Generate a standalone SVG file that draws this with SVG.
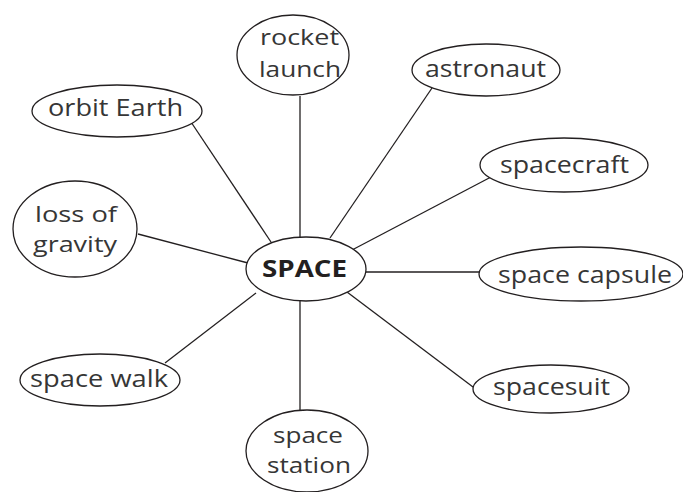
<svg xmlns="http://www.w3.org/2000/svg" width="683" height="492" viewBox="0 0 683 492">
<style>
ellipse{fill:#fff;stroke:#231f20;stroke-width:1.3}
line{stroke:#231f20;stroke-width:1.3}
text{font-family:"Open Sans","Noto Sans",sans-serif;font-size:24px;fill:#363636;text-anchor:middle}
.t{font-size:22px}
.b{font-weight:bold;font-size:24px;fill:#231f20}
</style>
<rect width="683" height="492" fill="#fff"/>
<g id="connectors">
<line x1="300" y1="96" x2="300" y2="237"/>
<line x1="191" y1="122" x2="271" y2="242"/>
<line x1="138" y1="234" x2="248" y2="263"/>
<line x1="165" y1="363" x2="256" y2="293"/>
<line x1="300" y1="300" x2="300" y2="410"/>
<line x1="432" y1="88" x2="330" y2="238"/>
<line x1="491" y1="177" x2="352" y2="250"/>
<line x1="366" y1="272" x2="479" y2="272"/>
<line x1="473" y1="387" x2="347" y2="292"/>
</g>
<g id="space"><ellipse cx="306" cy="269" rx="60" ry="32"/><text class="b" x="304.5" y="277" textLength="85" lengthAdjust="spacingAndGlyphs">SPACE</text></g>
<g id="rocket-launch"><ellipse cx="293" cy="55" rx="56" ry="40"/><text class="t" x="299.5" y="45" textLength="79" lengthAdjust="spacingAndGlyphs">rocket</text><text class="t" x="300" y="77" textLength="82" lengthAdjust="spacingAndGlyphs">launch</text></g>
<g id="orbit-earth"><ellipse cx="117" cy="111" rx="85" ry="26"/><text x="115.5" y="116" textLength="135" lengthAdjust="spacingAndGlyphs">orbit Earth</text></g>
<g id="loss-of-gravity"><ellipse cx="75" cy="229" rx="62" ry="48"/><text class="t" x="76" y="222" textLength="82" lengthAdjust="spacingAndGlyphs">loss of</text><text class="t" x="75" y="252" textLength="84" lengthAdjust="spacingAndGlyphs">gravity</text></g>
<g id="space-walk"><ellipse cx="100" cy="380" rx="80" ry="26"/><text x="99" y="387" textLength="138" lengthAdjust="spacingAndGlyphs">space walk</text></g>
<g id="space-station"><ellipse cx="307" cy="451" rx="61" ry="41"/><text class="t" x="308" y="443" textLength="70" lengthAdjust="spacingAndGlyphs">space</text><text class="t" x="309" y="473" textLength="84" lengthAdjust="spacingAndGlyphs">station</text></g>
<g id="astronaut"><ellipse cx="486" cy="70" rx="74" ry="26"/><text x="485.5" y="77" textLength="121" lengthAdjust="spacingAndGlyphs">astronaut</text></g>
<g id="spacecraft"><ellipse cx="564" cy="165" rx="84" ry="27"/><text x="564.5" y="173" textLength="129" lengthAdjust="spacingAndGlyphs">spacecraft</text></g>
<g id="space-capsule"><ellipse cx="581" cy="274" rx="102" ry="27"/><text x="585" y="283" textLength="174" lengthAdjust="spacingAndGlyphs">space capsule</text></g>
<g id="spacesuit"><ellipse cx="551" cy="389" rx="78" ry="24"/><text x="551.5" y="395" textLength="117" lengthAdjust="spacingAndGlyphs">spacesuit</text></g>
</svg>
